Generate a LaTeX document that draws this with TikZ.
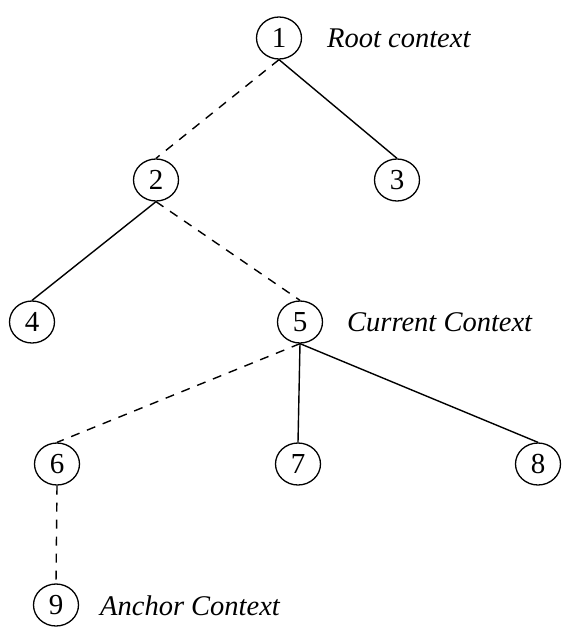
\documentclass[tikz,border=0pt]{standalone}
\usepackage{fontspec}
\setmainfont{Liberation Serif}
\usetikzlibrary{shapes.geometric}
\begin{document}
\begin{tikzpicture}[x=1pt,y=-1pt,
  nd/.style={ellipse,draw,line width=1.3pt,minimum width=45pt,minimum height=42pt,inner sep=0pt,font=\fontsize{29}{30}\selectfont},
  lbl/.style={anchor=west,font=\itshape\fontsize{28.5}{30}\selectfont,inner sep=0pt},
  sol/.style={line width=1.4pt},
  dsh/.style={line width=1.4pt,dash pattern=on 9pt off 8pt}]
\useasboundingbox (0,0) rectangle (564,629);
\node[nd] (n1) at (279,38) {1};
\node[nd] (n2) at (156,180) {2};
\node[nd] (n3) at (397,180) {3};
\node[nd] (n4) at (32,322) {4};
\node[nd] (n5) at (300,322) {5};
\node[nd] (n6) at (57,464) {6};
\node[nd] (n7) at (298,464) {7};
\node[nd] (n8) at (538,464) {8};
\node[nd] (n9) at (56,605) {9};
\node[lbl] (l1) at (327,38) {Root context};
\node[lbl] (l5) at (347,322) {Current Context};
\node[lbl] (l9) at (100,606) {Anchor Context};
\draw[dsh] (n1.south) -- (n2.north);
\draw[sol] (n1.south) -- (n3.north);
\draw[sol] (n2.south) -- (n4.north);
\draw[dsh] (n2.south) -- (n5.north);
\draw[dsh] (n5.south) -- (n6.north);
\draw[sol] (n5.south) -- (n7.north);
\draw[sol] (n5.south) -- (n8.north);
\draw[dsh] (n6.south) -- (n9.north);
\end{tikzpicture}
\end{document}
